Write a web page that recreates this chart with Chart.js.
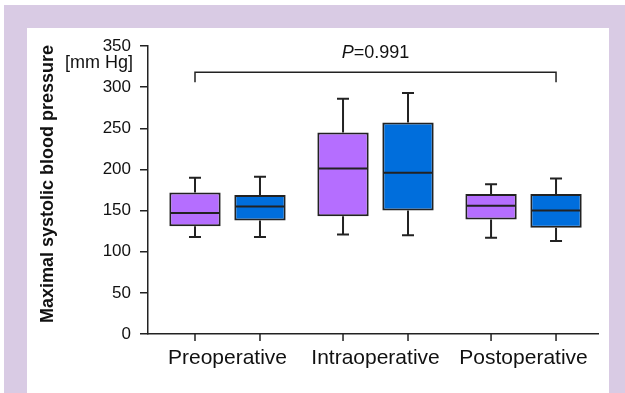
<!DOCTYPE html>
<html><head><meta charset="utf-8">
<script src="https://cdn.jsdelivr.net/npm/chart.js@4"></script>
<style>html,body{margin:0;padding:0;background:#fff;} #c{display:block;}</style>
</head><body>
<div style="width:625px;height:393px"><canvas id="c" width="625" height="393"></canvas></div>
<script>
// ---- data ----
const categories = ['Preoperative', 'Intraoperative', 'Postoperative'];
const seriesNames = ['Group 1', 'Group 2'];
const aMin = [118, 121, 117];
const aQ1  = [131, 143, 139];
const aMed = [147, 201, 156];
const aQ3  = [172, 245, 170];
const aMax = [190, 286, 182];
const bMin = [118, 120, 113];
const bQ1  = [138, 150, 129];
const bMed = [155, 196, 150];
const bQ3  = [169, 257, 170];
const bMax = [191, 293, 189];
const yTickValues = [0, 50, 100, 150, 200, 250, 300, 350];
const pText = 'P=0.991';
const bracketValue = 318;
const bracketDropValue = 306;
const yUnit = '[mm Hg]';
const yTitle = 'Maximal systolic blood pressure';

const FONT = "'Liberation Sans', Arial, sans-serif";
const colors = ['rgb(181,110,255)', 'rgb(0,110,220)'];
const stats = [
  {min: aMin, q1: aQ1, med: aMed, q3: aQ3, max: aMax},
  {min: bMin, q1: bQ1, med: bMed, q3: bQ3, max: bMax}
];

const datasets = stats.map((s, di) => ({
  label: seriesNames[di],
  data: categories.map((c, i) => ({x: i, y: [s.q1[i], s.q3[i]]})),
  backgroundColor: colors[di],
  borderColor: '#222',
  borderWidth: 2,
  borderSkipped: false,
  categoryPercentage: 0.878,
  barPercentage: 0.79
}));

const boxPlugin = {
  id: 'boxExtras',
  beforeDraw(chart) {
    const ctx = chart.ctx;
    ctx.save();
    ctx.fillStyle = 'rgb(217,203,228)';
    ctx.fillRect(4, 5, 621, 23);
    ctx.fillRect(4, 5, 23, 388);
    ctx.fillRect(609, 5, 16, 388);
    ctx.restore();
  },
  afterDatasetsDraw(chart) {
    const ctx = chart.ctx;
    const ys = chart.scales.y;
    const area = chart.chartArea;
    ctx.save();
    ctx.strokeStyle = '#222';
    ctx.lineWidth = 2;
    const centers = [];
    stats.forEach((s, di) => {
      const meta = chart.getDatasetMeta(di);
      meta.data.forEach((bar, i) => {
        const x = bar.x, w = bar.width;
        centers[di] = centers[di] || [];
        centers[di][i] = x;
        const yMed = ys.getPixelForValue(s.med[i]);
        const yQ1 = ys.getPixelForValue(s.q1[i]);
        const yQ3 = ys.getPixelForValue(s.q3[i]);
        const yMin = ys.getPixelForValue(s.min[i]);
        const yMax = ys.getPixelForValue(s.max[i]);
        ctx.beginPath();
        ctx.moveTo(x - w / 2 + 1, yMed); ctx.lineTo(x + w / 2 - 1, yMed);
        ctx.moveTo(x, yQ3); ctx.lineTo(x, yMax);
        ctx.moveTo(x - 6, yMax); ctx.lineTo(x + 6, yMax);
        ctx.moveTo(x, yQ1); ctx.lineTo(x, yMin);
        ctx.moveTo(x - 6, yMin); ctx.lineTo(x + 6, yMin);
        ctx.stroke();
        // x tick marks at box centers
        ctx.save();
        ctx.lineWidth = 1.5;
        ctx.beginPath();
        ctx.moveTo(x, area.bottom); ctx.lineTo(x, area.bottom + 7);
        ctx.stroke();
        ctx.restore();
      });
    });
    // significance bracket
    const x1 = centers[0][0], x2 = centers[1][2];
    const yb = ys.getPixelForValue(bracketValue);
    const yd = ys.getPixelForValue(bracketDropValue);
    ctx.lineWidth = 1.5;
    ctx.beginPath();
    ctx.moveTo(x1, yd); ctx.lineTo(x1, yb); ctx.lineTo(x2, yb); ctx.lineTo(x2, yd);
    ctx.stroke();
    // P text with italic P
    ctx.fillStyle = '#111';
    ctx.textBaseline = 'alphabetic';
    const pPart = pText.slice(0, 1), rest = pText.slice(1);
    ctx.font = 'italic 18px ' + FONT;
    const w1 = ctx.measureText(pPart).width;
    ctx.font = '18px ' + FONT;
    const w2 = ctx.measureText(rest).width;
    const cx = (x1 + x2) / 2;
    const start = cx - (w1 + w2) / 2;
    const ty = ys.getPixelForValue(bracketValue) - 14;
    ctx.font = 'italic 18px ' + FONT;
    ctx.textAlign = 'left';
    ctx.fillText(pPart, start, ty);
    ctx.font = '18px ' + FONT;
    ctx.fillText(rest, start + w1, ty);
    // unit label
    ctx.font = '18px ' + FONT;
    ctx.textAlign = 'right';
    ctx.fillText(yUnit, 133, 68);
    // y axis title
    ctx.save();
    ctx.translate(48, 184);
    ctx.rotate(-Math.PI / 2);
    ctx.textAlign = 'center';
    ctx.textBaseline = 'middle';
    ctx.font = 'bold 18px ' + FONT;
    ctx.fillText(yTitle, 0, 0);
    ctx.restore();
    ctx.restore();
  }
};

new Chart(document.getElementById('c'), {
  type: 'bar',
  data: {datasets},
  options: {
    responsive: false,
    devicePixelRatio: 1,
    animation: false,
    layout: {padding: {left: 0, top: 46, right: 27, bottom: 0}},
    plugins: {legend: {display: false}, tooltip: {enabled: false}},
    scales: {
      x: {
        type: 'linear',
        offset: false,
        min: -0.537,
        max: 2.503,
        afterBuildTicks: (s) => { s.ticks = categories.map((c, i) => ({value: i})); },
        afterFit: (s) => { s.height = 59; },
        ticks: {
          callback: (v) => categories[v] ?? '',
          font: {family: FONT, size: 21},
          color: '#111',
          padding: 4,
          maxRotation: 0,
          autoSkip: false
        },
        grid: {drawOnChartArea: false, color: 'rgba(0,0,0,0)', tickLength: 8, offset: false},
        border: {color: '#222', width: 1.5}
      },
      y: {
        min: 0,
        max: 350,
        afterBuildTicks: (s) => { s.ticks = yTickValues.map(v => ({value: v})); },
        afterFit: (s) => { s.width = 148; },
        ticks: {font: {family: FONT, size: 17}, color: '#111', padding: 9},
        grid: {drawOnChartArea: false, color: '#222', lineWidth: 1.5, tickLength: 8},
        border: {color: '#222', width: 1.5},
        title: {display: false}
      }
    }
  },
  plugins: [boxPlugin]
});
</script>
</body></html>
